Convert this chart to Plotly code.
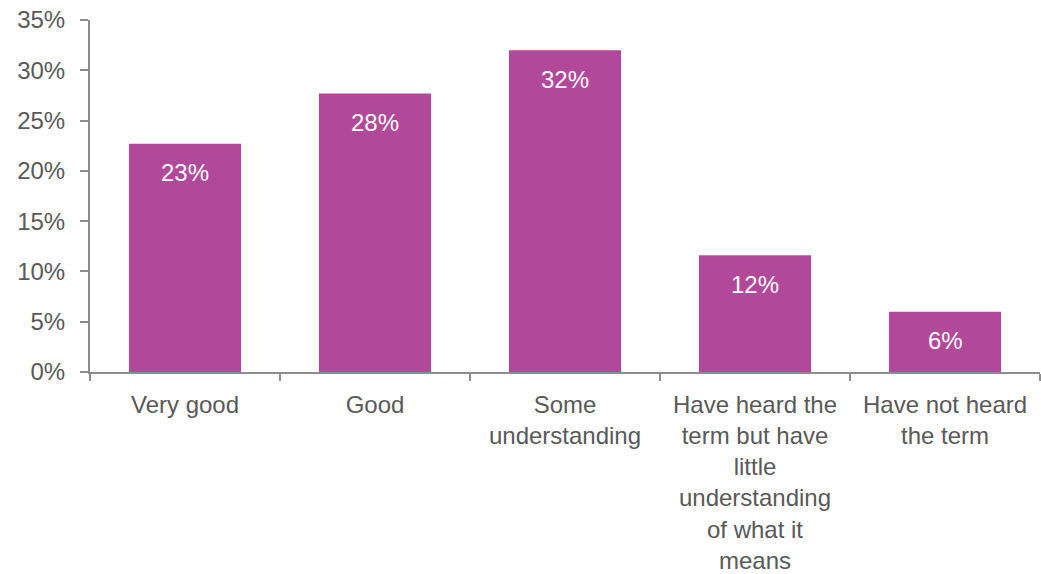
import plotly.graph_objects as go

# Survey responses: self-rated understanding of the term
categories = [
    "Very good",
    "Good",
    "Some<br>understanding",
    "Have heard the<br>term but have<br>little<br>understanding<br>of what it<br>means",
    "Have not heard<br>the term",
]
shares = [0.227, 0.277, 0.320, 0.116, 0.060]
y_ticks = [0, 0.05, 0.10, 0.15, 0.20, 0.25, 0.30, 0.35]

BAR_COLOR = "#B2489A"
AXIS_COLOR = "#8C8C8C"
TEXT_COLOR = "#595959"
FONT = "Liberation Sans, Arial, sans-serif"

fig = go.Figure(
    go.Bar(
        x=categories,
        y=shares,
        marker=dict(color=BAR_COLOR, line=dict(width=0)),
        hoverinfo="skip",
    )
)

# value labels sitting just inside the top of each bar
for cat, val in zip(categories, shares):
    fig.add_annotation(
        x=cat,
        y=val,
        text=f"{val:.0%}",
        showarrow=False,
        yanchor="middle",
        yshift=-29,
        font=dict(family=FONT, size=24, color="white"),
    )

fig.update_layout(
    width=1041,
    height=574,
    margin=dict(l=90, r=1, t=20, b=202),
    paper_bgcolor="white",
    plot_bgcolor="white",
    bargap=0.41,
    showlegend=False,
    font=dict(family=FONT, size=24, color=TEXT_COLOR),
)

fig.update_xaxes(
    showline=True,
    linecolor=AXIS_COLOR,
    linewidth=2,
    ticks="outside",
    tickson="boundaries",
    ticklen=7,
    tickwidth=2,
    tickcolor=AXIS_COLOR,
    ticklabelstandoff=10,
    showgrid=False,
    tickfont=dict(family=FONT, size=24, color=TEXT_COLOR),
)

fig.update_yaxes(
    range=[0, 0.35],
    tickvals=y_ticks,
    tickformat=".0%",
    showline=True,
    linecolor=AXIS_COLOR,
    linewidth=2,
    ticks="outside",
    ticklen=8,
    tickwidth=2,
    tickcolor=AXIS_COLOR,
    ticklabelstandoff=10,
    showgrid=False,
    zeroline=False,
    tickfont=dict(family=FONT, size=24, color=TEXT_COLOR),
)

fig.write_html("out.html")
